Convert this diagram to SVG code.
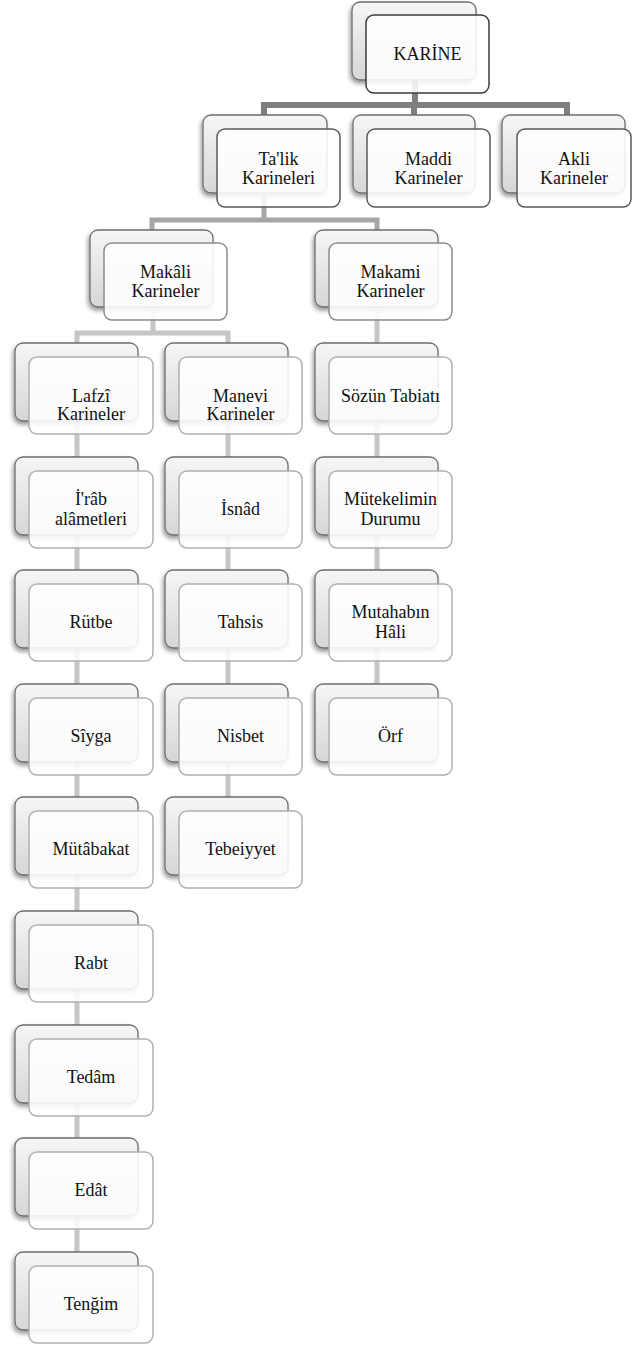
<svg xmlns="http://www.w3.org/2000/svg" width="633" height="1345" viewBox="0 0 633 1345" font-family="'Liberation Serif', 'DejaVu Serif', serif" font-size="18">
<style>
.bk{fill:url(#bg);stroke:#6e6e6e;stroke-width:1.3;filter:url(#sh)}
.fr{fill:#ffffff;fill-opacity:0.88;stroke-width:1.5}
.f0{stroke:#3c3c3c}
.f1{stroke:#5a5a5a}
.f2{stroke:#8c8c8c}
.f3{stroke:#b0b0b0}
.t{font-family:'Liberation Serif','DejaVu Serif',serif;font-size:18px;fill:#111;text-anchor:middle}
.c0{stroke:#7f7f7f;stroke-width:6;fill:none}
.c1{stroke:#a6a6a6;stroke-width:5;fill:none}
.c2{stroke:#c6c6c6;stroke-width:5;fill:none}
</style>
<defs>
<linearGradient id="bg" x1="0" y1="0" x2="0" y2="1">
<stop offset="0" stop-color="#f6f6f6"/>
<stop offset="1" stop-color="#d6d6d6"/>
</linearGradient>
<filter id="sh" x="-20%" y="-20%" width="140%" height="150%">
<feDropShadow dx="-1.5" dy="3" stdDeviation="2" flood-color="#000" flood-opacity="0.4"/>
</filter>
</defs>
<rect width="633" height="1345" fill="#fff"/>
<g id="connectors">
<path class="c0" d="M415 80V105M264 115V105H567V115M414 105V115"/>
<path class="c1" d="M264 195V220M152 230V220H377V230"/>
<path class="c2" d="M153 310V333M77 343V333H228V343"/>
<path class="c2" d="M377 310V343"/>
<path class="c2" d="M77 420V1252"/>
<path class="c2" d="M228 420V797"/>
<path class="c2" d="M377 420V684"/>
</g>
<g id="n-karine"><rect class="bk" x="352" y="2" width="124" height="78" rx="8"/><rect class="fr f0" x="366" y="15" width="123" height="78" rx="8"/><text class="t" x="427.5" y="60">KARİNE</text></g>
<g id="n-talik"><rect class="bk" x="203" y="115" width="124" height="78" rx="8"/><rect class="fr f1" x="217" y="129" width="123" height="78" rx="8"/><text class="t" x="278.5" y="165">Ta'lik</text><text class="t" x="278.5" y="184">Karineleri</text></g>
<g id="n-maddi"><rect class="bk" x="353" y="115" width="122" height="78" rx="8"/><rect class="fr f1" x="367" y="129" width="123" height="78" rx="8"/><text class="t" x="428.5" y="165">Maddi</text><text class="t" x="428.5" y="184">Karineler</text></g>
<g id="n-akli"><rect class="bk" x="502" y="115" width="123" height="78" rx="8"/><rect class="fr f1" x="517" y="129" width="114" height="78" rx="8"/><text class="t" x="574" y="165">Akli</text><text class="t" x="574" y="184">Karineler</text></g>
<g id="n-makali"><rect class="bk" x="90" y="230" width="123" height="77" rx="8"/><rect class="fr f2" x="104" y="243" width="123" height="77" rx="8"/><text class="t" x="165.5" y="278">Makâli</text><text class="t" x="165.5" y="297">Karineler</text></g>
<g id="n-makami"><rect class="bk" x="315" y="230" width="123" height="77" rx="8"/><rect class="fr f2" x="329" y="243" width="123" height="77" rx="8"/><text class="t" x="390.5" y="278">Makami</text><text class="t" x="390.5" y="297">Karineler</text></g>
<g id="n-lafzi"><rect class="bk" x="15" y="343" width="123" height="78" rx="8"/><rect class="fr f3" x="29" y="357" width="124" height="77" rx="8"/><text class="t" x="91" y="402">Lafzî</text><text class="t" x="91" y="420">Karineler</text></g>
<g id="n-irab"><rect class="bk" x="15" y="457" width="123" height="78" rx="8"/><rect class="fr f3" x="29" y="471" width="124" height="77" rx="8"/><text class="t" x="91" y="505">İ'râb</text><text class="t" x="91" y="525">alâmetleri</text></g>
<g id="n-rutbe"><rect class="bk" x="15" y="570" width="123" height="78" rx="8"/><rect class="fr f3" x="29" y="584" width="124" height="77" rx="8"/><text class="t" x="91" y="628">Rütbe</text></g>
<g id="n-siyga"><rect class="bk" x="15" y="684" width="123" height="78" rx="8"/><rect class="fr f3" x="29" y="698" width="124" height="77" rx="8"/><text class="t" x="91" y="742">Sîyga</text></g>
<g id="n-mutabakat"><rect class="bk" x="15" y="797" width="123" height="78" rx="8"/><rect class="fr f3" x="29" y="811" width="124" height="77" rx="8"/><text class="t" x="91" y="855">Mütâbakat</text></g>
<g id="n-rabt"><rect class="bk" x="15" y="911" width="123" height="78" rx="8"/><rect class="fr f3" x="29" y="925" width="124" height="77" rx="8"/><text class="t" x="91" y="969">Rabt</text></g>
<g id="n-tedam"><rect class="bk" x="15" y="1025" width="123" height="78" rx="8"/><rect class="fr f3" x="29" y="1039" width="124" height="77" rx="8"/><text class="t" x="91" y="1083">Tedâm</text></g>
<g id="n-edat"><rect class="bk" x="15" y="1138" width="123" height="78" rx="8"/><rect class="fr f3" x="29" y="1152" width="124" height="77" rx="8"/><text class="t" x="91" y="1196">Edât</text></g>
<g id="n-tengim"><rect class="bk" x="15" y="1252" width="123" height="78" rx="8"/><rect class="fr f3" x="29" y="1266" width="124" height="77" rx="8"/><text class="t" x="91" y="1310">Tenğim</text></g>
<g id="n-manevi"><rect class="bk" x="165" y="343" width="123" height="78" rx="8"/><rect class="fr f3" x="179" y="357" width="123" height="77" rx="8"/><text class="t" x="240.5" y="402">Manevi</text><text class="t" x="240.5" y="420">Karineler</text></g>
<g id="n-isnad"><rect class="bk" x="165" y="457" width="123" height="78" rx="8"/><rect class="fr f3" x="179" y="471" width="123" height="77" rx="8"/><text class="t" x="240.5" y="515">İsnâd</text></g>
<g id="n-tahsis"><rect class="bk" x="165" y="570" width="123" height="78" rx="8"/><rect class="fr f3" x="179" y="584" width="123" height="77" rx="8"/><text class="t" x="240.5" y="628">Tahsis</text></g>
<g id="n-nisbet"><rect class="bk" x="165" y="684" width="123" height="78" rx="8"/><rect class="fr f3" x="179" y="698" width="123" height="77" rx="8"/><text class="t" x="240.5" y="742">Nisbet</text></g>
<g id="n-tebeiyyet"><rect class="bk" x="165" y="797" width="123" height="78" rx="8"/><rect class="fr f3" x="179" y="811" width="123" height="77" rx="8"/><text class="t" x="240.5" y="855">Tebeiyyet</text></g>
<g id="n-sozun"><rect class="bk" x="315" y="343" width="123" height="78" rx="8"/><rect class="fr f3" x="329" y="357" width="123" height="77" rx="8"/><text class="t" x="390.5" y="402">Sözün Tabiatı</text></g>
<g id="n-mutekelimin"><rect class="bk" x="315" y="457" width="123" height="78" rx="8"/><rect class="fr f3" x="329" y="471" width="123" height="77" rx="8"/><text class="t" x="390.5" y="505">Mütekelimin</text><text class="t" x="390.5" y="525">Durumu</text></g>
<g id="n-mutahabin"><rect class="bk" x="315" y="570" width="123" height="78" rx="8"/><rect class="fr f3" x="329" y="584" width="123" height="77" rx="8"/><text class="t" x="390.5" y="618">Mutahabın</text><text class="t" x="390.5" y="638">Hâli</text></g>
<g id="n-orf"><rect class="bk" x="315" y="684" width="123" height="78" rx="8"/><rect class="fr f3" x="329" y="698" width="123" height="77" rx="8"/><text class="t" x="390.5" y="742">Örf</text></g>
</svg>
